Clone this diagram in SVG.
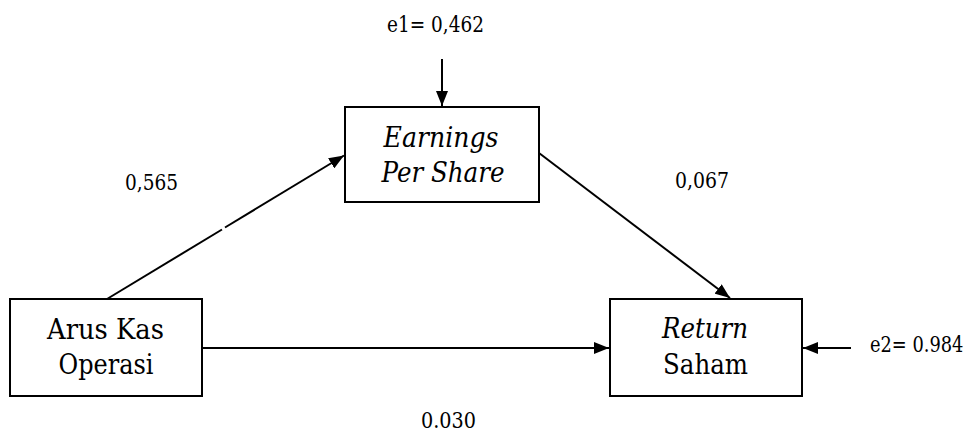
<svg xmlns="http://www.w3.org/2000/svg" width="971" height="432" viewBox="0 0 971 432">
<style>
.box{fill:#fff;stroke:#000;stroke-width:2}
.t{font-family:"DejaVu Serif","Liberation Serif",serif;font-size:27px;fill:#000;text-anchor:middle}
.i{font-style:italic}
.lbl{font-family:"DejaVu Serif","Liberation Serif",serif;font-size:22px;fill:#000}
.ln{stroke:#000;stroke-width:2;fill:none}
</style>
<defs>
<marker id="ah" viewBox="0 0 15 12" refX="15" refY="6" markerWidth="15" markerHeight="12" markerUnits="userSpaceOnUse" orient="auto">
<path d="M0,0 L15,6 L0,12 Z" fill="#000"/>
</marker>
</defs>
<g id="connectors">
<line class="ln" x1="107" y1="299" x2="222" y2="229.5"/>
<line class="ln" x1="225" y1="227.5" x2="344" y2="155.5" marker-end="url(#ah)"/>
<line class="ln" x1="539" y1="153" x2="730" y2="298" marker-end="url(#ah)"/>
<line class="ln" x1="202" y1="348" x2="609" y2="348" marker-end="url(#ah)"/>
<line class="ln" x1="442" y1="59" x2="442" y2="106" marker-end="url(#ah)"/>
<line class="ln" x1="851" y1="348" x2="803" y2="348" marker-end="url(#ah)"/>
</g>
<g id="node-eps">
<rect class="box" x="345" y="107" width="194" height="95"/>
<text class="t i" x="441" y="147" textLength="115" lengthAdjust="spacingAndGlyphs">Earnings</text>
<text class="t i" x="443" y="182" textLength="123" lengthAdjust="spacingAndGlyphs">Per Share</text>
</g>
<g id="node-ako">
<rect class="box" x="10" y="299" width="192" height="97"/>
<text class="t" x="105.5" y="339" textLength="117" lengthAdjust="spacingAndGlyphs">Arus Kas</text>
<text class="t" x="106" y="374" textLength="95" lengthAdjust="spacingAndGlyphs">Operasi</text>
</g>
<g id="node-rs">
<rect class="box" x="610" y="299" width="192" height="97"/>
<text class="t i" x="705" y="338" textLength="86" lengthAdjust="spacingAndGlyphs">Return</text>
<text class="t" x="705.5" y="374" textLength="85" lengthAdjust="spacingAndGlyphs">Saham</text>
</g>
<g id="labels">
<text class="lbl" x="387" y="32" textLength="97" lengthAdjust="spacingAndGlyphs">e1= 0,462</text>
<text class="lbl" x="0" y="0" transform="translate(870,352) scale(0.81,1)">e2= 0.984</text>
<text class="lbl" x="125" y="190" textLength="53" lengthAdjust="spacingAndGlyphs">0,565</text>
<text class="lbl" x="675" y="188" textLength="54" lengthAdjust="spacingAndGlyphs">0,067</text>
<text class="lbl" x="421" y="428" textLength="55" lengthAdjust="spacingAndGlyphs">0.030</text>
</g>
</svg>
